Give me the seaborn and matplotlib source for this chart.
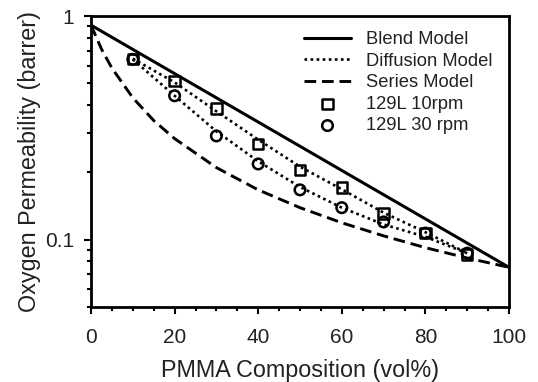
import numpy as np
import pandas as pd
import matplotlib
matplotlib.use("Agg")
import matplotlib.pyplot as plt
import seaborn as sns
from matplotlib.ticker import LogLocator, NullFormatter, FixedLocator, MultipleLocator

# Data
blend_x = [0, 100]
blend_y = [0.91, 0.0752]

series_x = [0, 2.5, 5, 10, 15, 20, 30, 40, 50, 60, 70, 80, 90, 100]
series_y = [0.91, 0.712, 0.585, 0.431, 0.341, 0.283, 0.210, 0.167, 0.139, 0.119, 0.104, 0.0921, 0.0828, 0.0752]

diff_x = [10, 20, 30, 40, 50, 60, 70, 80, 90]
diff10_y = [0.645, 0.505, 0.375, 0.28, 0.212, 0.168, 0.132, 0.108, 0.087]
diff30_y = [0.64, 0.44, 0.305, 0.224, 0.172, 0.139, 0.117, 0.103, 0.087]

data_x = [10, 20, 30, 40, 50, 60, 70, 80, 90]
rpm10_y = [0.643, 0.513, 0.385, 0.268, 0.205, 0.171, 0.131, 0.107, 0.086]
rpm30_y = [0.64, 0.44, 0.291, 0.218, 0.167, 0.139, 0.120, 0.107, 0.087]

sns.set_style("ticks")
plt.rcParams['font.family'] = ['Liberation Sans', 'DejaVu Sans']

fig = plt.figure(figsize=(5.38, 3.82), dpi=100)
ax = fig.add_axes([91/538, 1 - 307/382, (509 - 91)/538, (307 - 16)/382])

sns.lineplot(x=blend_x, y=blend_y, ax=ax, color='black', lw=2.2, label='Blend Model')
sns.lineplot(x=diff_x, y=diff10_y, ax=ax, color='black', lw=1.9, linestyle=(0, (1, 1.3)), label='Diffusion Model')
sns.lineplot(x=diff_x, y=diff30_y, ax=ax, color='black', lw=1.9, linestyle=(0, (1, 1.3)), label='_nolegend_')
sns.lineplot(x=series_x, y=series_y, ax=ax, color='black', lw=2.1, linestyle=(0, (4, 2)), label='Series Model')
sns.scatterplot(x=data_x, y=rpm10_y, ax=ax, marker='s', s=58, facecolor='none', edgecolor='black', linewidth=1.8, label='129L 10rpm', zorder=5)
sns.scatterplot(x=data_x, y=rpm30_y, ax=ax, marker='o', s=58, facecolor='none', edgecolor='black', linewidth=1.8, label='129L 30 rpm', zorder=5)

ax.set_yscale('log')
ax.set_xlim(0, 100)
ax.set_ylim(0.05, 1)
ax.xaxis.set_major_locator(MultipleLocator(20))
ax.xaxis.set_minor_locator(MultipleLocator(5))
ax.yaxis.set_major_locator(FixedLocator([0.1, 1]))
ax.set_yticklabels(['0.1', '1'])
ax.yaxis.set_minor_locator(LogLocator(base=10, subs=np.arange(2, 10)))
ax.yaxis.set_minor_formatter(NullFormatter())

for sp in ax.spines.values():
    sp.set_linewidth(2)
    sp.set_color('black')
ax.tick_params(which='both', direction='out', width=1.5, colors='black', labelcolor='#222222',
               labelsize=15, top=False, right=False)
ax.tick_params(which='major', length=5)
ax.tick_params(axis='x', which='major', pad=10)
ax.tick_params(axis='y', which='major', pad=7)
ax.tick_params(which='minor', length=3)

ax.set_xlabel('PMMA Composition (vol%)', fontsize=16.8, labelpad=9, color='#222222')
ax.set_ylabel('Oxygen Permeability (barrer)', fontsize=16.8, labelpad=3, color='#222222')

leg = ax.legend(loc='upper right', frameon=False, fontsize=13.2, handlelength=2.6,
                handletextpad=0.8, labelspacing=0.25, bbox_to_anchor=(1.0, 1.005))
for t in leg.get_texts():
    t.set_color('#222222')

fig.savefig('out.png', dpi=100)
